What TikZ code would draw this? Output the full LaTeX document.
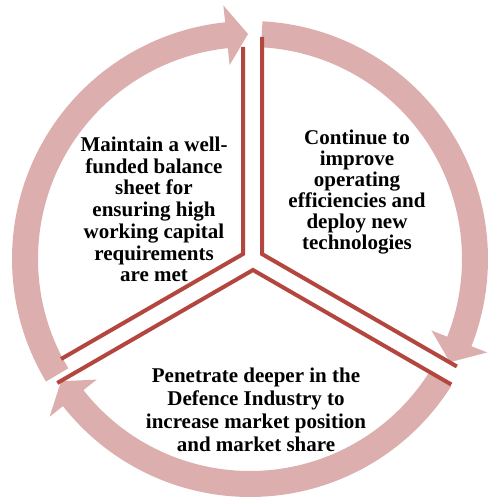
\documentclass[tikz,border=0pt]{standalone}
\usepackage{fontspec}
\setmainfont{Liberation Serif}
\usetikzlibrary{calc}
\definecolor{ringpink}{RGB}{220,175,174}
\definecolor{edgered}{RGB}{180,70,64}

\begin{document}
\begin{tikzpicture}[x=1pt, y=1pt,
  arrowring/.style={fill=ringpink},
  edge/.style={draw=edgered, line width=4pt},
  goal text/.style={align=center, inner sep=0pt, font=\bfseries\fontsize{21}{#1}\selectfont},
  goal text/.default=21.7]
\useasboundingbox (0,0) rectangle (488,499);
\coordinate (C) at (250,240);
% Draw the three curved arrows of the cycle
\foreach \tail/\base/\tip in {211/96/90.5, 87/-21.5/-27.3, -32.3/-141.8/-147.1}
  \fill[arrowring] ($(C)+(\tail:238pt)$) arc[start angle=\tail, end angle=\base, radius=238pt]
    -- ($(C)+(\base:255pt)$) -- ($(C)+(\tip:225pt)$) -- ($(C)+(\base:195pt)$)
    -- ($(C)+(\base:212pt)$) arc[start angle=\base, end angle=\tail, radius=212pt] -- cycle;
% Corners of the three segments
\coordinate (left corner) at (243,245);
\coordinate (right corner) at (262,245);
\coordinate (bottom corner) at (253,229);
\coordinate (left top) at ($(left corner)+(90:207pt)$);
\coordinate (left foot) at ($(left corner)+(210:210pt)$);
\coordinate (right top) at ($(right corner)+(90:217pt)$);
\coordinate (right foot) at ($(right corner)+(330:225pt)$);
\coordinate (bottom left) at ($(bottom corner)+(210:226pt)$);
\coordinate (bottom right) at ($(bottom corner)+(330:229pt)$);
% Draw segment edges
\draw[edge] (left top) -- (left corner) -- (left foot);
\draw[edge] (right top) -- (right corner) -- (right foot);
\draw[edge] (bottom left) -- (bottom corner) -- (bottom right);
% Texts
\node[goal text] (balance sheet) at (154,289.5) {Maintain a well-\\funded balance\\sheet for\\ensuring high\\working capital\\requirements\\are met};
\node[goal text=21] (efficiencies) at (357,307) {Continue to\\improve\\operating\\efficiencies and\\deploy new\\technologies};
\node[goal text=23] (defence) at (256,89) {Penetrate deeper in the\\Defence Industry to\\increase market position\\and market share};
\end{tikzpicture}
\end{document}
